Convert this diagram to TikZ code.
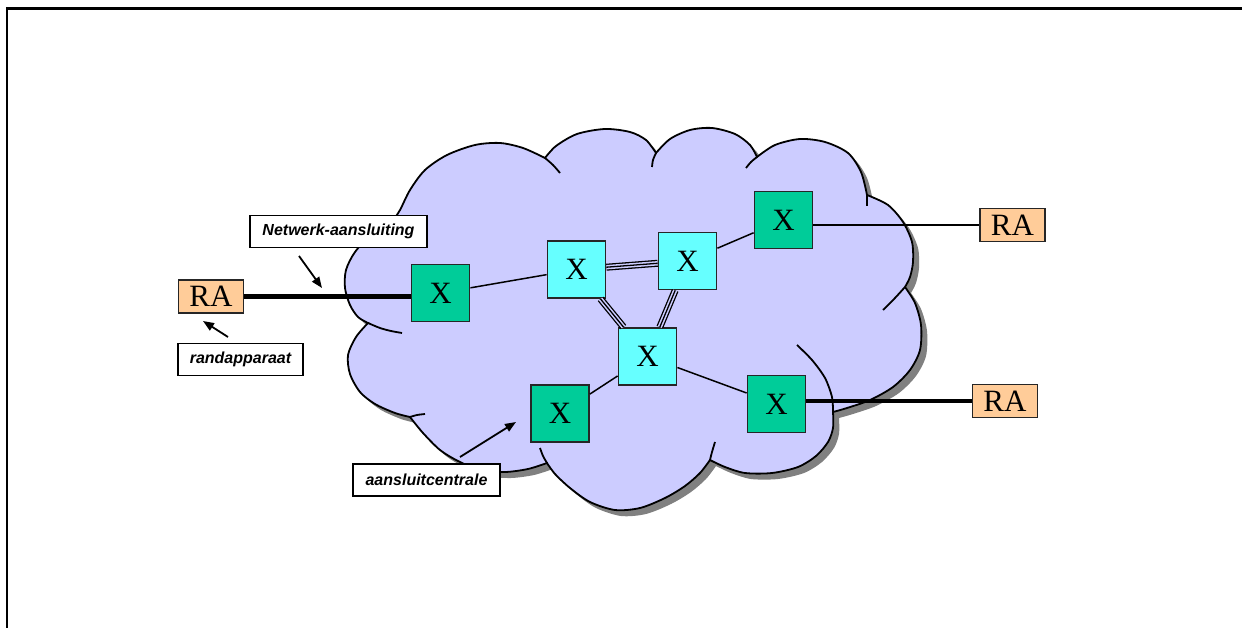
\documentclass[tikz,border=0pt]{standalone}
\usepackage{fontspec}
\setmainfont{Liberation Serif}
\newfontfamily\lsans{Liberation Sans}
\usetikzlibrary{arrows.meta}
\definecolor{lav}{HTML}{CCCCFF}
\definecolor{grn}{HTML}{00CC99}
\definecolor{cyn}{HTML}{66FFFF}
\definecolor{peach}{HTML}{FFCC99}
\definecolor{shad}{HTML}{808080}
\newcommand\cloudshape{%
plot[smooth] coordinates {(368,323) (358,317) (350,305) (345,288) (346,270) (355,252) (372,234) (392,222)}
-- plot[smooth] coordinates {(392,222) (400,210) (410,190) (425,170) (447,155) (475,145) (500,143) (523,148) (545,158)}
-- plot[smooth] coordinates {(545,158) (556,146) (577,134) (605,129) (630,132) (646,140) (656,153)}
-- plot[smooth] coordinates {(656,153) (670,139) (690,130) (712,128) (735,134) (750,145) (757,157)}
-- plot[smooth] coordinates {(757,157) (775,145) (800,139) (825,142) (848,153) (861,172) (867,195)}
-- plot[smooth] coordinates {(867,195) (888,205) (903,222) (912,242) (913,262) (910,277) (905,287)}
-- plot[smooth] coordinates {(905,287) (915,303) (921,325) (920,350) (910,370) (893,387) (870,400) (847,408) (833,412)}
-- plot[smooth] coordinates {(833,412) (833,428) (828,442) (816,456) (798,467) (772,473) (745,473) (725,467) (710,460)}
-- plot[smooth] coordinates {(710,460) (700,473) (685,486) (665,498) (640,508) (615,510) (590,502) (570,488) (555,474) (547,463)}
-- plot[smooth] coordinates {(547,463) (528,469) (505,472) (480,470) (458,461) (440,450) (423,433) (410,417)}
-- plot[smooth] coordinates {(410,417) (395,413) (375,404) (360,392) (350,374) (348,355) (356,337) (368,323)}
-- cycle}
\tikzset{
  frameline/.style={line width=2.2pt, draw=black},
  cloudline/.style={line width=1.8pt, draw=black},
  xbox/.style={draw=black!85, line width=1.8pt, minimum width=58pt, minimum height=57pt, inner sep=0pt, font=\fontsize{31}{34}\selectfont},
  sw/.style={xbox, fill=grn},
  core/.style={xbox, fill=cyn},
  ra/.style={draw=black!85, line width=1.6pt, fill=peach, minimum width=65pt, minimum height=33pt, inner sep=0pt, font=\fontsize{31}{34}\selectfont},
  lbl/.style={draw=black, line width=1.9pt, fill=white, minimum height=32pt, inner sep=0pt, font=\lsans\bfseries\itshape\fontsize{16}{19}\selectfont},
  thin/.style={line width=1.5pt, draw=black},
  thick/.style={line width=4.2pt, draw=black},
  triple/.style={line width=7pt, draw=black, postaction={draw=lav, line width=4.4pt}, postaction={draw=black, line width=1.3pt}},
  pointer/.style={line width=1.8pt, draw=black, -{Triangle[length=11pt,width=8.5pt]}}
}
\newcommand\xx{\raisebox{-2pt}{X}}
\begin{document}
\begin{tikzpicture}[x=1pt,y=-1pt]
\useasboundingbox (0,0) rectangle (1242,628);
% frame
\draw[frameline] (7,628) -- (7,8.5) -- (1242,8.5);
% cloud shadow and body
\begin{scope}[shift={(6,6)}]
\fill[shad] \cloudshape;
\end{scope}
\fill[lav] \cloudshape;
\draw[cloudline] \cloudshape;
% interior strokes of the cloud
\draw[cloudline] plot[smooth] coordinates {(368,323) (380,328) (391,331) (402,333)};
\draw[cloudline] plot[smooth] coordinates {(545,158) (553,165) (560,173)};
\draw[cloudline] plot[smooth] coordinates {(656,153) (653,160) (652,167)};
\draw[cloudline] plot[smooth] coordinates {(757,157) (751,162) (746,168)};
\draw[cloudline] plot[smooth] coordinates {(867,195) (867,200) (867,206)};
\draw[cloudline] plot[smooth] coordinates {(905,287) (895,298) (883,310)};
\draw[cloudline] plot[smooth] coordinates {(833,412) (832,397) (825,378) (812,360) (797,345)};
\draw[cloudline] plot[smooth] coordinates {(710,460) (712,452) (715,442)};
\draw[cloudline] plot[smooth] coordinates {(547,463) (543,456) (540,448)};
\draw[cloudline] plot[smooth] coordinates {(410,417) (417,415) (425,414)};
% nodes
\node[sw] (g1) at (440.5,293) {\xx};
\node[sw] (g2) at (783.5,220) {\xx};
\node[sw] (g3) at (776.5,404) {\xx};
\node[sw] (g4) at (560,413.5) {\xx};
\node[core] (c1) at (576.5,269.5) {\xx};
\node[core] (c2) at (687.5,261) {\xx};
\node[core] (c3) at (647.5,356.5) {\xx};
\node[ra] (ra1) at (211,296.5) {RA};
\node[ra] (ra2) at (1012.5,225) {RA};
\node[ra] (ra3) at (1005,401) {RA};
% connectors
\draw[thin] (g1) -- (c1);
\draw[triple] (c1) -- (c2);
\draw[triple] (c1) -- (c3);
\draw[triple] (c2) -- (c3);
\draw[thin] (c2) -- (g2);
\draw[thin] (c3) -- (g3);
\draw[thin] (c3) -- (g4);
\draw[thick] (ra1.east) -- (g1.west |- ra1.east);
\draw[thin] (ra2.west) -- (g2.east |- ra2.west);
\draw[thick] (g3.east |- ra3.west) -- (ra3.west);
% labels
\node[lbl, minimum width=177pt] (l1) at (338.5,231.5) {Netwerk-aansluiting};
\node[lbl, minimum width=125pt] (l2) at (240.5,359.5) {randapparaat};
\node[lbl, minimum width=147pt] (l3) at (426.5,480) {aansluitcentrale};
% pointers
\coordinate (p1s) at (299,256);
\coordinate (p1e) at (322,288);
\coordinate (p2s) at (228,337);
\coordinate (p2e) at (203,321);
\coordinate (p3s) at (460,457);
\coordinate (p3e) at (516,422);
\draw[pointer] (p1s) -- (p1e);
\draw[pointer] (p2s) -- (p2e);
\draw[pointer] (p3s) -- (p3e);
\end{tikzpicture}
\end{document}
